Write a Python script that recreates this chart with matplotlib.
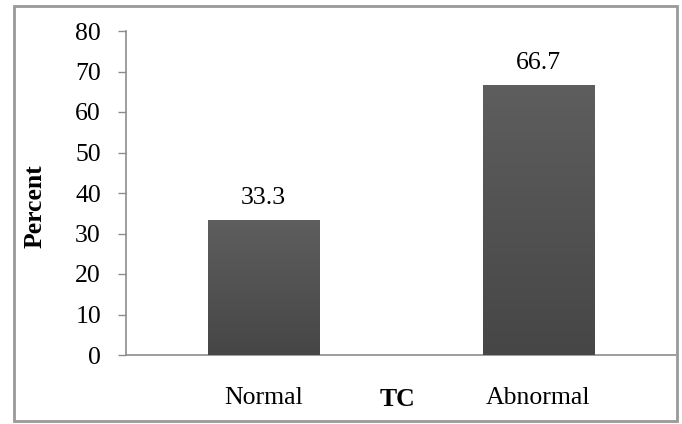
import numpy as np
import matplotlib.pyplot as plt
from matplotlib.patches import Rectangle

# data
categories = ['Normal', 'Abnormal']
percent = [33.3, 66.7]
value_labels = ['33.3', '66.7']
y_ticks = [0, 10, 20, 30, 40, 50, 60, 70, 80]

plt.rcParams['font.family'] = ['Liberation Serif', 'DejaVu Serif']
FS = 18.5
GRAY = '#8c8c8c'

fig = plt.figure(figsize=(6.82, 4.24), dpi=100)
ax = fig.add_axes([126 / 682, 69 / 424, 550 / 682, 324 / 424])

x = np.arange(len(categories))
bars = ax.bar(x, percent, width=0.405, color='#525252', zorder=2)

# vertical gradient inside each bar
grad = np.linspace(0, 1, 256).reshape(-1, 1)
cmap = plt.matplotlib.colors.LinearSegmentedColormap.from_list(
    'g', ['#464646', '#5e5e5e'])
for b in bars:
    bx, by = b.get_x(), b.get_y()
    w, h = b.get_width(), b.get_height()
    im = ax.imshow(grad, extent=[bx, bx + w, by, by + h], origin='lower',
                   cmap=cmap, aspect='auto', zorder=3)
    im.set_clip_path(b)

for xi, v, lab in zip(x, percent, value_labels):
    ax.annotate(lab, (xi, v), xytext=(0, 8), textcoords='offset points',
                ha='center', va='bottom', fontsize=FS)

ax.set_xlim(-0.5, 1.5)
ax.set_ylim(0, 80)
ax.set_yticks(y_ticks)
ax.set_xticks(x)
ax.set_xticklabels(categories)
ax.tick_params(axis='y', direction='out', length=6, width=1, color=GRAY,
               pad=12, labelsize=FS)
ax.tick_params(axis='x', length=0, pad=23, labelsize=FS)

for s in ['top', 'right']:
    ax.spines[s].set_visible(False)
for s in ['left', 'bottom']:
    ax.spines[s].set_color(GRAY)
    ax.spines[s].set_linewidth(1.2)

fig.text(35 / 682, 1 - 206 / 424, 'Percent', rotation=90, ha='center',
         va='center', fontsize=FS, fontweight='bold')
fig.text(397 / 682, 1 - 400 / 424, 'TC', ha='center', va='center',
         fontsize=FS, fontweight='bold')

# outer chart border
fig.patches.append(Rectangle((14 / 682, 3 / 424), 663 / 682, 415 / 424,
                             transform=fig.transFigure, fill=False,
                             edgecolor='#999999', linewidth=2))

fig.savefig('out.png', dpi=100)
